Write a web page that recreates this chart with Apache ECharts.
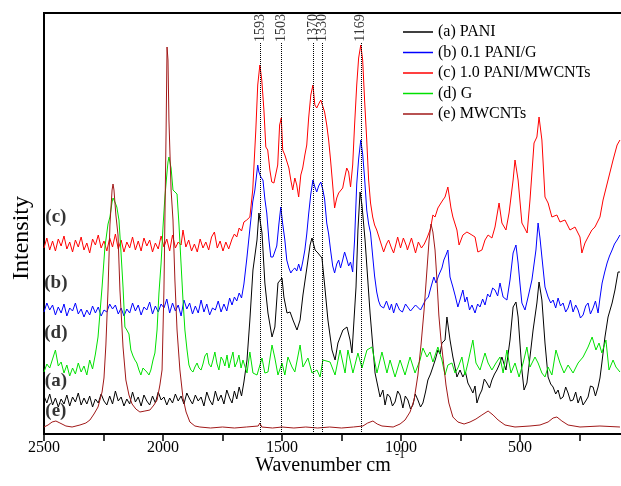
<!DOCTYPE html>
<html>
<head>
<meta charset="utf-8">
<script src="https://cdn.jsdelivr.net/npm/echarts@6/dist/echarts.min.js"></script>
<style>
  html, body { margin: 0; padding: 0; background: #fff; }
  #main { width: 621px; height: 486px; }
</style>
</head>
<body>
<div id="main"></div>
<script>
// Raman spectra, [wavenumber cm-1, intensity (arb.)]
const pani = [
  [2500,38],[2488,31],[2476,40],[2464,29],[2452,36],[2440,27],[2428,35],[2416,30],[2404,39],[2392,28],[2380,37],[2368,32],[2356,41],[2344,29],[2332,36],[2320,30],[2308,38],[2296,27],[2284,35],[2272,31],[2260,40],[2248,33],[2236,29],[2224,38],[2212,30],[2200,43],[2188,33],[2176,37],[2164,28],[2152,35],[2140,30],[2128,42],[2116,32],[2104,37],[2092,28],[2080,39],[2068,33],[2056,29],[2044,38],[2032,31],[2020,42],[2008,34],[1996,37],[1984,29],[1972,36],[1960,31],[1948,40],[1936,33],[1924,38],[1912,30],[1900,41],[1888,35],[1876,30],[1864,39],[1852,33],[1840,37],[1828,28],[1816,42],[1804,34],[1792,29],[1780,43],[1768,33],[1756,39],[1744,30],[1732,44],[1720,36],[1710,31],[1700,43],[1690,35],[1680,47],[1670,38],[1660,52],[1647,74],[1635,114],[1622,164],[1605,194],[1597,221],[1593,219],[1584,201],[1572,151],[1559,121],[1542,97],[1530,107],[1517,151],[1500,156],[1492,137],[1479,121],[1466,122],[1454,114],[1437,104],[1424,114],[1412,139],[1395,167],[1382,189],[1374,196],[1361,184],[1349,181],[1332,176],[1320,147],[1307,114],[1290,84],[1277,74],[1265,91],[1244,104],[1227,107],[1214,94],[1206,81],[1189,147],[1181,204],[1172,242],[1164,229],[1151,194],[1130,121],[1109,61],[1088,37],[1076,44],[1067,29],[1057,40],[1046,37],[1036,28],[1025,32],[1014,43],[1004,39],[992,26],[982,38],[971,34],[960,25],[950,29],[940,40],[929,34],[918,27],[908,31],[897,42],[887,54],[876,60],[866,67],[855,75],[845,84],[836,80],[828,91],[815,94],[807,117],[794,94],[782,77],[774,68],[765,57],[752,64],[740,57],[729,62],[719,51],[708,46],[698,41],[689,48],[681,31],[670,39],[660,44],[650,55],[639,51],[628,46],[618,54],[607,60],[597,64],[586,70],[576,77],[567,70],[559,64],[550,80],[542,94],[529,127],[517,132],[508,117],[500,90],[492,64],[483,44],[471,51],[458,77],[445,104],[429,131],[420,152],[408,134],[395,91],[382,57],[371,50],[361,47],[350,40],[340,44],[330,35],[319,37],[308,47],[298,41],[288,33],[277,34],[266,42],[256,31],[245,38],[235,29],[224,33],[214,37],[204,48],[193,47],[183,38],[172,47],[164,56],[156,71],[143,97],[130,117],[113,131],[101,144],[88,162],[80,162]
];
const paniG = [
  [2500,122],[2488,131],[2476,124],[2464,129],[2452,119],[2440,127],[2428,121],[2416,130],[2404,118],[2392,126],[2380,123],[2368,131],[2356,120],[2344,125],[2332,117],[2320,124],[2308,119],[2296,128],[2284,121],[2272,127],[2260,118],[2248,124],[2236,122],[2224,130],[2212,125],[2200,129],[2188,120],[2176,126],[2164,118],[2152,125],[2140,121],[2128,131],[2116,123],[2104,129],[2092,119],[2080,127],[2068,124],[2056,132],[2044,120],[2032,128],[2020,122],[2008,130],[1996,126],[1984,135],[1972,121],[1960,131],[1948,123],[1936,129],[1924,118],[1912,134],[1900,125],[1888,131],[1876,120],[1864,128],[1852,121],[1840,134],[1828,122],[1816,130],[1804,119],[1792,126],[1780,124],[1768,133],[1756,122],[1744,130],[1732,123],[1720,136],[1710,129],[1700,137],[1690,133],[1680,141],[1670,136],[1660,150],[1648,175],[1635,205],[1623,232],[1614,244],[1602,269],[1597,262],[1589,257],[1580,254],[1572,235],[1564,221],[1555,194],[1547,177],[1538,177],[1530,176],[1522,188],[1513,210],[1505,227],[1497,210],[1488,194],[1480,174],[1471,166],[1463,161],[1455,164],[1446,166],[1438,163],[1430,170],[1421,163],[1413,172],[1404,184],[1396,200],[1388,220],[1379,240],[1370,254],[1362,247],[1354,242],[1346,248],[1337,252],[1329,245],[1321,235],[1312,211],[1304,200],[1296,184],[1287,168],[1279,161],[1270,170],[1262,174],[1254,166],[1245,174],[1237,182],[1228,175],[1220,168],[1212,172],[1203,162],[1195,194],[1186,250],[1178,275],[1169,294],[1161,280],[1153,256],[1144,224],[1136,210],[1128,201],[1119,178],[1111,158],[1102,142],[1094,133],[1086,128],[1073,126],[1061,133],[1048,124],[1040,130],[1031,121],[1019,131],[1006,124],[994,122],[981,130],[973,132],[960,123],[952,121],[939,129],[931,131],[918,124],[910,122],[897,134],[885,137],[874,147],[862,157],[853,151],[841,159],[828,166],[820,174],[811,179],[803,184],[794,157],[782,147],[772,138],[761,127],[750,136],[740,144],[731,132],[723,137],[712,124],[702,129],[689,121],[678,130],[668,127],[657,135],[647,129],[636,140],[626,137],[615,146],[605,144],[594,138],[584,151],[571,137],[555,134],[542,154],[529,181],[517,189],[508,171],[500,150],[492,131],[479,124],[466,137],[450,154],[433,184],[424,211],[416,196],[408,177],[395,147],[382,137],[371,131],[361,134],[350,126],[340,136],[330,128],[319,131],[308,122],[298,126],[288,134],[277,122],[266,129],[256,124],[246,116],[235,119],[224,128],[214,131],[204,120],[193,126],[183,133],[172,121],[164,136],[155,151],[144,162],[134,171],[124,178],[113,184],[103,190],[92,194],[80,199]
];
const paniMw = [
  [2500,186],[2488,196],[2476,184],[2464,193],[2452,183],[2440,195],[2428,188],[2416,198],[2404,185],[2392,192],[2380,182],[2368,194],[2356,187],[2344,197],[2332,184],[2320,191],[2308,181],[2296,195],[2284,189],[2272,199],[2260,186],[2248,193],[2236,183],[2224,196],[2212,187],[2200,200],[2188,185],[2176,194],[2164,182],[2152,192],[2140,186],[2128,197],[2116,184],[2104,193],[2092,183],[2080,196],[2068,188],[2056,194],[2044,182],[2032,191],[2020,185],[2008,198],[1996,187],[1984,195],[1972,183],[1960,199],[1948,186],[1936,192],[1924,189],[1916,204],[1904,187],[1892,194],[1880,183],[1868,190],[1856,182],[1844,195],[1832,186],[1820,192],[1808,184],[1796,197],[1784,202],[1772,186],[1760,193],[1748,183],[1736,192],[1724,185],[1710,195],[1700,200],[1690,197],[1680,206],[1670,203],[1660,212],[1648,214],[1635,217],[1623,244],[1610,304],[1602,349],[1593,369],[1585,354],[1576,324],[1568,287],[1560,284],[1551,264],[1543,252],[1534,251],[1526,253],[1518,269],[1510,309],[1503,316],[1497,284],[1488,279],[1480,277],[1471,266],[1463,254],[1455,244],[1446,256],[1438,249],[1430,237],[1421,259],[1413,266],[1404,279],[1396,289],[1388,316],[1379,339],[1370,349],[1362,329],[1354,326],[1346,330],[1337,334],[1330,336],[1321,322],[1312,309],[1304,294],[1296,274],[1287,249],[1279,226],[1270,236],[1262,241],[1254,242],[1245,246],[1237,256],[1228,266],[1220,262],[1212,247],[1203,269],[1195,309],[1186,349],[1178,376],[1169,389],[1161,374],[1153,334],[1144,294],[1136,254],[1128,231],[1119,217],[1111,209],[1102,204],[1094,198],[1086,199],[1073,182],[1061,190],[1052,194],[1040,186],[1031,181],[1019,192],[1014,197],[1002,186],[990,196],[977,188],[973,184],[956,196],[948,189],[939,181],[927,192],[914,186],[902,190],[889,197],[878,204],[874,208],[866,219],[857,217],[845,226],[832,231],[824,234],[815,237],[803,247],[790,226],[782,217],[765,204],[756,189],[740,199],[723,202],[702,199],[689,197],[677,182],[660,184],[647,194],[634,199],[618,196],[605,207],[588,231],[576,211],[559,204],[546,221],[529,254],[521,274],[508,254],[492,211],[483,207],[470,201],[458,234],[441,291],[429,297],[420,317],[408,294],[395,237],[382,231],[366,217],[345,219],[332,212],[311,214],[290,204],[269,207],[248,197],[240,181],[227,191],[214,197],[198,204],[185,207],[164,217],[151,234],[130,254],[109,274],[92,289],[80,294]
];
const graphene = [
  [2500,62],[2488,70],[2476,66],[2464,75],[2452,84],[2440,68],[2428,72],[2416,61],[2404,69],[2392,58],[2380,66],[2368,60],[2356,71],[2344,62],[2332,68],[2320,59],[2308,74],[2296,65],[2284,80],[2273,97],[2256,147],[2244,187],[2231,210],[2223,217],[2214,232],[2210,236],[2202,232],[2194,227],[2185,214],[2177,184],[2168,147],[2160,107],[2152,104],[2143,100],[2135,84],[2126,78],[2118,74],[2110,71],[2101,64],[2093,59],[2084,66],[2076,67],[2068,62],[2059,59],[2051,64],[2042,74],[2034,81],[2025,104],[2017,141],[2008,171],[2000,207],[1992,237],[1983,262],[1979,272],[1975,277],[1971,272],[1966,266],[1958,244],[1950,242],[1941,240],[1933,210],[1925,174],[1916,134],[1908,104],[1899,84],[1891,69],[1883,64],[1874,62],[1866,67],[1857,71],[1849,66],[1840,64],[1832,70],[1824,78],[1815,81],[1807,70],[1798,67],[1790,74],[1782,82],[1773,70],[1765,64],[1756,77],[1748,74],[1740,68],[1731,79],[1723,66],[1714,75],[1706,82],[1698,67],[1689,72],[1681,79],[1672,66],[1664,74],[1647,61],[1635,82],[1622,61],[1605,59],[1584,76],[1572,61],[1559,62],[1542,89],[1530,76],[1517,59],[1500,71],[1488,59],[1475,77],[1458,67],[1446,62],[1424,89],[1412,67],[1391,76],[1374,61],[1353,64],[1340,57],[1328,74],[1298,72],[1277,59],[1256,84],[1235,61],[1223,84],[1202,61],[1181,81],[1164,66],[1143,84],[1122,87],[1101,61],[1080,82],[1059,61],[1046,74],[1025,57],[1004,74],[983,59],[962,77],[941,61],[920,74],[908,86],[891,77],[878,82],[866,72],[845,87],[828,74],[815,59],[803,69],[786,71],[773,61],[761,66],[744,77],[731,59],[719,71],[698,94],[685,71],[668,64],[647,81],[634,71],[618,64],[601,71],[584,77],[571,61],[555,84],[538,61],[521,71],[504,57],[487,71],[471,87],[458,67],[437,77],[424,71],[408,61],[395,57],[382,67],[366,59],[349,84],[332,71],[315,61],[298,69],[277,61],[256,71],[235,77],[214,87],[197,97],[181,84],[168,91],[156,81],[139,94],[126,64],[109,74],[97,67],[80,62]
];
const mwcnt = [
  [2500,7],[2483,9],[2466,12],[2450,13],[2433,11],[2408,8],[2382,7],[2349,9],[2324,11],[2307,14],[2290,20],[2273,27],[2256,42],[2248,56],[2240,89],[2231,144],[2223,209],[2214,244],[2210,250],[2206,244],[2198,219],[2189,199],[2181,144],[2168,87],[2156,54],[2143,39],[2130,30],[2114,25],[2097,22],[2076,23],[2055,24],[2038,29],[2025,34],[2013,49],[2004,64],[1996,144],[1992,214],[1987,304],[1983,387],[1979,374],[1975,314],[1966,244],[1958,214],[1950,154],[1941,104],[1929,64],[1916,36],[1903,22],[1887,12],[1866,8],[1845,7],[1800,6],[1750,7],[1700,6],[1650,7],[1600,8],[1593,11],[1585,7],[1540,6],[1500,7],[1450,6],[1400,7],[1350,6],[1300,7],[1250,6],[1200,7],[1160,8],[1140,11],[1118,13],[1100,10],[1080,8],[1033,7],[1004,10],[983,14],[962,22],[945,34],[929,59],[916,89],[903,124],[891,164],[882,194],[874,210],[866,202],[857,184],[849,154],[841,119],[832,94],[824,77],[811,49],[799,31],[782,17],[761,12],[735,10],[710,12],[685,15],[660,19],[634,23],[613,19],[592,14],[563,9],[521,7],[458,8],[416,9],[382,12],[361,16],[345,17],[324,13],[298,9],[248,7],[164,8],[80,7]
];

const seriesNames = ['(a) PANI', '(b) 0.1 PANI/G', '(c) 1.0 PANI/MWCNTs', '(d) G', '(e) MWCNTs'];
const seriesColors = ['#000000', '#0000ff', '#ff0000', '#00e000', '#a01818'];
const peakLines = [1593, 1503, 1370, 1330, 1169];
const tagNames = ['(c)', '(b)', '(d)', '(a)', '(e)'];
const tagLevels = [217, 151, 101, 53, 23];

const serif = 'Liberation Serif';
const chart = echarts.init(document.getElementById('main'));

const curves = [pani, paniG, paniMw, graphene, mwcnt].map((d, i) => ({
  name: seriesNames[i],
  type: 'line',
  data: d,
  symbol: 'none',
  clip: true,
  lineStyle: { width: 1, color: seriesColors[i] },
  itemStyle: { color: seriesColors[i] },
  z: 3
}));

// dotted guide lines at the band positions
curves[0].markLine = {
  silent: true,
  symbol: ['none', 'none'],
  label: { show: false },
  lineStyle: { type: 'dotted', color: '#000', width: 1 },
  data: peakLines.map(v => [{ coord: [v, 0] }, { coord: [v, 392] }])
};

const option = {
  animation: false,
  grid: {
    left: 44, right: -18, top: 13, bottom: 52,
    outerBoundsMode: 'none', containLabel: false,
    show: true, borderColor: '#000', borderWidth: 2
  },
  legend: {
    data: seriesNames,
    orient: 'vertical',
    left: 398,
    top: 19,
    icon: 'rect',
    itemWidth: 30,
    itemHeight: 1.5,
    itemGap: 4.5,
    textStyle: { fontFamily: serif, fontSize: 16, lineHeight: 16, color: '#000' }
  },
  xAxis: {
    type: 'value',
    inverse: true,
    min: 0,
    max: 2500,
    interval: 250,
    splitLine: { show: false },
    axisLine: { lineStyle: { color: '#000', width: 2 } },
    axisTick: { length: 7, lineStyle: { color: '#000', width: 1.5 } },
    axisLabel: {
      fontFamily: serif, fontSize: 16, color: '#000', margin: 6,
      showMinLabel: true, showMaxLabel: true,
      formatter: v => (v % 500 === 0 && v > 0 ? String(v) : '')
    }
  },
  yAxis: {
    type: 'value',
    min: 0,
    max: 421,
    splitLine: { show: false },
    axisLine: { show: true, lineStyle: { color: '#000', width: 2 } },
    axisTick: { show: false },
    axisLabel: { show: false }
  },
  graphic: [
    { type: 'text', x: 22, y: 238, rotation: Math.PI / 2,
      style: { text: 'Intensity', font: '24px "Liberation Serif"', fill: '#000', textAlign: 'center', textVerticalAlign: 'middle' } },
    { type: 'text', x: 323, y: 466,
      style: { text: 'Wavenumber cm', font: '20px "Liberation Serif"', fill: '#000', textAlign: 'center', textVerticalAlign: 'middle' } },
    { type: 'text', x: 395, y: 455,
      style: { text: '-1', font: '12px "Liberation Serif"', fill: '#000', textAlign: 'left', textVerticalAlign: 'middle' } }
  ],
  series: curves.concat([
    {
      name: 'peaks',
      type: 'scatter',
      data: peakLines.map(v => [v, 406]),
      symbolSize: 1,
      itemStyle: { color: 'rgba(0,0,0,0)' },
      silent: true,
      label: {
        show: true, position: 'inside', rotate: 90,
        formatter: p => String(p.value[0]),
        fontFamily: serif, fontSize: 14, color: '#000'
      },
      z: 5
    },
    {
      name: 'tags',
      type: 'scatter',
      data: tagLevels.map((y, i) => ({ value: [2450, y], name: tagNames[i] })),
      symbolSize: 1,
      itemStyle: { color: 'rgba(0,0,0,0)' },
      silent: true,
      label: {
        show: true, position: 'inside',
        formatter: p => p.name,
        fontFamily: serif, fontSize: 19, fontWeight: 'bold', color: '#000'
      },
      z: 5
    }
  ])
};

chart.setOption(option);
</script>
</body>
</html>
